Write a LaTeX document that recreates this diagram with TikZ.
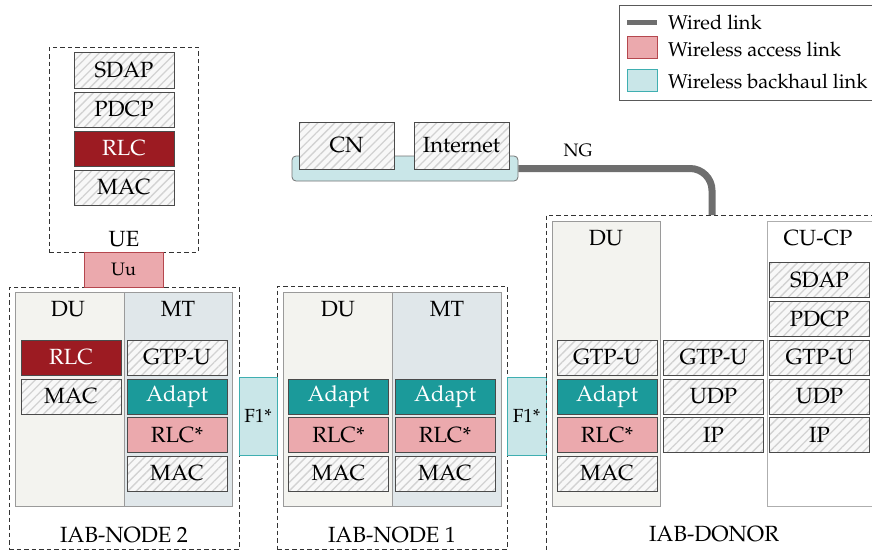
\documentclass[tikz,border=0pt]{standalone}
\usepackage[T1]{fontenc}
\usepackage{mathpazo}
\usetikzlibrary{patterns.meta}
\definecolor{hatchbg}{HTML}{F8F8F8}
\definecolor{hatchln}{HTML}{D2D2D2}
\definecolor{boxline}{HTML}{4A4A4A}
\definecolor{rlcred}{HTML}{9C1B22}
\definecolor{adaptteal}{HTML}{1B9A9A}
\definecolor{pinkfill}{HTML}{EBA9AD}
\definecolor{pinkline}{HTML}{B5474E}
\definecolor{cyanfill}{HTML}{C9E6E8}
\definecolor{cyanline}{HTML}{3FAFB1}
\definecolor{dupanel}{HTML}{F3F3EF}
\definecolor{mtpanel}{HTML}{E0E7EA}
\definecolor{panelline}{HTML}{9A9A9A}
\definecolor{wiredgray}{HTML}{6E6E6E}
\tikzset{
  layer/.style={draw=boxline, line width=1pt, minimum width=100pt, minimum height=35pt, inner sep=0pt},
  hatch/.style={layer, preaction={fill=hatchbg}, pattern={Lines[angle=45,distance=6pt,line width=1.3pt]}, pattern color=hatchln},
  rlcbox/.style={layer, fill=rlcred, text=white},
  adaptbox/.style={layer, fill=adaptteal, text=white},
  rlcstar/.style={layer, fill=pinkfill},
  dashbox/.style={draw=black!80, dash pattern=on 4.5pt off 3pt, line width=0.9pt, inner sep=0pt},
  dupan/.style={draw=panelline, line width=1pt, fill=dupanel, inner sep=0pt},
  mtpan/.style={draw=panelline, line width=1pt, fill=mtpanel, inner sep=0pt},
  cupan/.style={draw=panelline!80, line width=1pt, fill=white, inner sep=0pt},
  lbl/.style={inner sep=0pt},
  uulink/.style={fill=pinkfill, draw=pinkline, line width=1pt, inner sep=0pt, font=\fontsize{18}{22}\selectfont},
  f1link/.style={fill=cyanfill, draw=cyanline, line width=1pt, inner sep=0pt, font=\fontsize{19}{22}\selectfont},
  wired/.style={draw=wiredgray, line width=7pt},
}
\begin{document}
\begin{tikzpicture}[x=1pt,y=-1pt,font=\fontsize{22}{26}\selectfont]
\useasboundingbox (0,0) rectangle (872,551);

% ---------- legend ----------
\node[draw=black!65, line width=0.8pt, minimum width=271pt, minimum height=95pt, inner sep=0pt] (legend) at (754.5,52.5) {};
\coordinate (wl1) at (627,23);
\coordinate (wl2) at (657,23);
\draw[draw=wiredgray, line width=5pt] (wl1) -- (wl2);
\node[fill=pinkfill, draw=pinkline, line width=1pt, minimum width=30pt, minimum height=22pt, inner sep=0pt] (lgacc) at (642,48) {};
\node[fill=cyanfill, draw=cyanline, line width=1pt, minimum width=30pt, minimum height=22pt, inner sep=0pt] (lgbh) at (642,80) {};
\begin{scope}[font=\fontsize{20}{24}\selectfont]
\node[lbl, anchor=west] (lt1) at (668,22) {Wired link};
\node[lbl, anchor=west] (lt2) at (668,49) {Wireless access link};
\node[lbl, anchor=west] (lt3) at (668,81) {Wireless backhaul link};
\end{scope}

% ---------- CN / Internet ----------
\node[fill=cyanfill, draw=black!55, line width=0.8pt, rounded corners=4pt, minimum width=226pt, minimum height=25pt, inner sep=0pt] (bar) at (405,168.5) {};
\node[hatch, minimum width=95pt, minimum height=47pt] (cn) at (346.5,145.5) {CN};
\node[hatch, minimum width=95pt, minimum height=47pt] (inet) at (461.5,145.5) {Internet};
\node[lbl, font=\fontsize{18}{22}\selectfont] (ng) at (578,150) {NG};

% ---------- UE ----------
\node[dashbox, minimum width=149pt, minimum height=205pt] (ue) at (123.5,149.5) {};
\node[hatch] (uesdap) at (124,70.5) {SDAP};
\node[hatch] (uepdcp) at (124,109.5) {PDCP};
\node[rlcbox] (uerlc) at (124,148.5) {RLC};
\node[hatch] (uemac) at (124,187.5) {MAC};
\node[lbl] (uelbl) at (124,239) {UE};

% ---------- IAB-NODE 2 ----------
\node[dashbox, minimum width=230pt, minimum height=262pt] (n2) at (124,418) {};
\node[dupan, minimum width=109pt, minimum height=214pt] (n2du) at (69.5,399) {};
\node[mtpan, minimum width=108pt, minimum height=214pt] (n2mt) at (178,399) {};
\node[lbl] (n2dulbl) at (68,309) {DU};
\node[lbl] (n2mtlbl) at (178,309) {MT};
\node[rlcbox] (n2durlc) at (71,357.5) {RLC};
\node[hatch] (n2dumac) at (71,396.5) {MAC};
\node[hatch] (n2mtgtp) at (177,357.5) {GTP-U};
\node[adaptbox] (n2mtad) at (177,396.5) {Adapt};
\node[rlcstar] (n2mtrlc) at (177,435) {RLC*};
\node[hatch] (n2mtmac) at (177,473.5) {MAC};
\node[lbl] (n2lbl) at (124,535) {IAB-NODE 2};

% Uu link
\node[uulink, minimum width=79pt, minimum height=35pt] (uu) at (123.5,269.5) {Uu};

% ---------- IAB-NODE 1 ----------
\node[dashbox, minimum width=230pt, minimum height=263pt] (n1) at (392,417.5) {};
\node[dupan, minimum width=109pt, minimum height=214pt] (n1du) at (337.5,399) {};
\node[mtpan, minimum width=109pt, minimum height=214pt] (n1mt) at (446.5,399) {};
\node[lbl] (n1dulbl) at (338,309) {DU};
\node[lbl] (n1mtlbl) at (447,309) {MT};
\node[adaptbox] (n1duad) at (338.5,396.5) {Adapt};
\node[rlcstar] (n1durlc) at (338.5,435) {RLC*};
\node[hatch] (n1dumac) at (338.5,473.5) {MAC};
\node[adaptbox] (n1mtad) at (445,396.5) {Adapt};
\node[rlcstar] (n1mtrlc) at (445,435) {RLC*};
\node[hatch] (n1mtmac) at (445,473.5) {MAC};
\node[lbl] (n1lbl) at (392,535) {IAB-NODE 1};

% F1* links
\node[f1link, minimum width=38pt, minimum height=78pt] (f1a) at (258,416) {F1*};
\node[f1link, minimum width=39pt, minimum height=78pt] (f1b) at (526.5,416) {F1*};

% ---------- IAB-DONOR ----------
\node[dashbox, minimum width=336pt, minimum height=340pt] (donor) at (714,385) {};
\node[dupan, minimum width=108pt, minimum height=285pt] (ddu) at (606,363.5) {};
\node[cupan, minimum width=113pt, minimum height=285pt] (dcu) at (823.5,363.5) {};
\node[lbl] (ddulbl) at (606,238) {DU};
\node[lbl] (dculbl) at (818,238) {CU-CP};
\node[hatch] (ddugtp) at (607,357.5) {GTP-U};
\node[adaptbox] (dduad) at (607,396.5) {Adapt};
\node[rlcstar] (ddurlc) at (607,435) {RLC*};
\node[hatch] (ddumac) at (607,473.5) {MAC};
\node[hatch] (dmgtp) at (713.5,357.5) {GTP-U};
\node[hatch] (dmudp) at (713.5,396.5) {UDP};
\node[hatch] (dmip) at (713.5,435) {IP};
\node[hatch] (dcsdap) at (819.5,280) {SDAP};
\node[hatch] (dcpdcp) at (819.5,319) {PDCP};
\node[hatch] (dcgtp) at (819.5,357.5) {GTP-U};
\node[hatch] (dcudp) at (819.5,396.5) {UDP};
\node[hatch] (dcip) at (819.5,435) {IP};
\node[lbl] (dlbl) at (714,534) {IAB-DONOR};

% ---------- wired NG link ----------
\coordinate (ngdrop) at (712,215);
\draw[wired, rounded corners=22pt] (bar.east) -| (ngdrop);
\end{tikzpicture}
\end{document}
